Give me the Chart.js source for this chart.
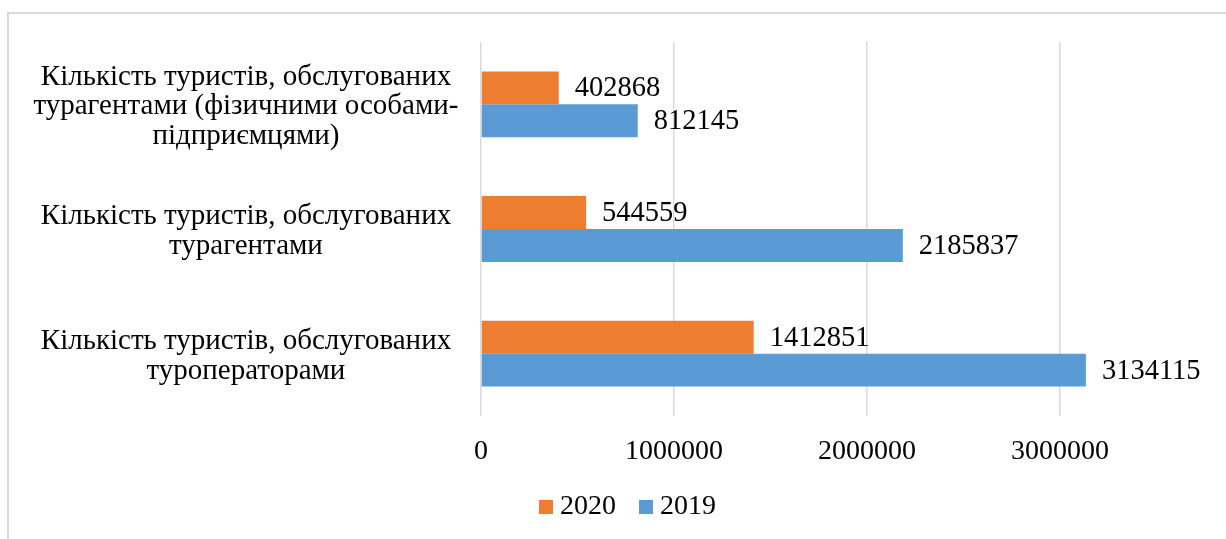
<!DOCTYPE html>
<html>
<head>
<meta charset="utf-8">
<script src="https://cdn.jsdelivr.net/npm/chart.js@4.4.1/dist/chart.umd.min.js"></script>
<style>
  html, body { margin: 0; padding: 0; background: #fff; overflow: hidden; }
  #frame { position: absolute; left: 7px; top: 12px; width: 1240px; height: 600px;
           border-top: 2px solid #d9d9d9; border-left: 2px solid #d9d9d9; }
  #c { position: absolute; left: 0; top: 0; }
</style>
</head>
<body>
<div id="frame"></div>
<canvas id="c" width="1226" height="539"></canvas>
<script>
const categories = [
  ["Кількість туристів, обслугованих", "турагентами (фізичними особами-", "підприємцями)"],
  ["Кількість туристів, обслугованих", "турагентами"],
  ["Кількість туристів, обслугованих", "туроператорами"]
];
const seriesNames = ["2020", "2019"];
const values2020 = [402868, 544559, 1412851];
const values2019 = [812145, 2185837, 3134115];
const xTicks = [0, 1000000, 2000000, 3000000];

const FONT = "'Liberation Serif', 'Times New Roman', serif";
const colors = ["#ED7D31", "#5B9BD5"];
const PLOT_LEFT = 481;

function swatch(color) {
  const cv = document.createElement('canvas');
  cv.width = 14; cv.height = 14;
  const g = cv.getContext('2d');
  g.fillStyle = color;
  g.fillRect(0, 0, 14, 14);
  return cv;
}
const swatches = colors.map(swatch);

const valueLabels = {
  id: 'valueLabels',
  afterDatasetsDraw(chart) {
    const ctx = chart.ctx;
    ctx.save();
    ctx.font = "28.5px " + FONT;
    ctx.fillStyle = "#000";
    ctx.textAlign = "left";
    ctx.textBaseline = "middle";
    chart.data.datasets.forEach((ds, i) => {
      const meta = chart.getDatasetMeta(i);
      meta.data.forEach((el, j) => {
        ctx.fillText(String(ds.data[j]), el.x + 16, el.y + 1);
      });
    });
    ctx.restore();
  }
};

const legendShift = {
  id: 'legendShift',
  afterLayout(chart) {
    const lg = chart.legend;
    if (lg) { lg.left += 52.75; lg.right += 52.75; }
  }
};

new Chart(document.getElementById('c'), {
  type: 'bar',
  data: {
    labels: categories,
    datasets: [
      { label: seriesNames[0], data: values2020, backgroundColor: colors[0],
        categoryPercentage: 0.528, barPercentage: 1.0 },
      { label: seriesNames[1], data: values2019, backgroundColor: colors[1],
        categoryPercentage: 0.528, barPercentage: 1.0 }
    ]
  },
  options: {
    indexAxis: 'y',
    responsive: false,
    animation: false,
    devicePixelRatio: 1,
    layout: { padding: { left: 0, right: 69.5, top: 42, bottom: 8 } },
    scales: {
      x: {
        min: 0, max: 3500000,
        afterFit(scale) { scale.height = 47; },
        afterBuildTicks(scale) { scale.ticks = xTicks.map(v => ({ value: v })); },
        border: { display: false },
        grid: { color: '#d9d9d9', lineWidth: 1.5, drawTicks: false },
        ticks: {
          includeBounds: false,
          stepSize: 1000000,
          padding: 19,
          color: '#000',
          font: { family: FONT, size: 28 },
          callback: (v) => String(v)
        }
      },
      y: {
        afterFit(scale) { scale.width = PLOT_LEFT; scale.paddingTop = 0; scale.paddingBottom = 0; },
        border: { display: false },
        grid: { display: false, drawTicks: false },
        ticks: {
          crossAlign: 'center',
          padding: 22.5,
          labelOffset: 2.5,
          color: '#000',
          font: { family: FONT, size: 29, lineHeight: 29.5 / 29 }
        }
      }
    },
    plugins: {
      tooltip: { enabled: false },
      legend: {
        position: 'bottom',
        labels: {
          usePointStyle: true,
          pointStyleWidth: 0.01,
          boxHeight: 14,
          padding: 30,
          color: '#000',
          font: { family: FONT, size: 28 },
          generateLabels(chart) {
            return chart.data.datasets.map((ds, i) => ({
              text: ds.label,
              fillStyle: colors[i],
              strokeStyle: colors[i],
              lineWidth: 0,
              pointStyle: swatches[i],
              hidden: false,
              datasetIndex: i,
              fontColor: '#000'
            }));
          }
        }
      }
    }
  },
  plugins: [valueLabels, legendShift]
});
</script>
</body>
</html>
